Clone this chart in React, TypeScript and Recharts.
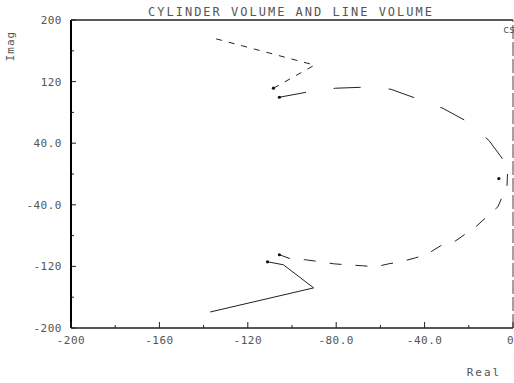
import { ScatterChart, Scatter, XAxis, YAxis, ReferenceLine } from 'recharts';

// upper branch of the locus (long dashes)
const upperReal = [-105.7, -93.4, -80.3, -68.0, -55.3, -44.0, -31.7, -20.9, -10.9, -3.2, -2.5];
const upperImag = [99.7, 106.2, 111.4, 112.7, 110.1, 98.4, 85.3, 68.4, 43.6, 13.7, 0];

// lower branch of the locus (short dashes)
const lowerReal = [-2.5, -2.7, -6.8, -11.3, -16.8, -21.3, -25.9, -32.7, -38.6, -44.0, -50.8, -56.2, -62.1, -68.0, -75.3, -81.2, -87.1, -93.9, -100.7, -105.7];
const lowerImag = [0, -15.0, -42.4, -54.1, -68.4, -77.5, -86.7, -93.2, -103.6, -108.8, -114.0, -116.6, -120.5, -119.2, -117.9, -116.6, -114.0, -111.4, -110.1, -104.9];

// line volume, upper (fine dashes)
const lineUpReal = [-108.4, -89.8, -135.6];
const lineUpImag = [111.4, 141.4, 176.5];

// line volume, lower (solid)
const lineLowReal = [-111.1, -103.9, -90.2, -137.0];
const lineLowImag = [-114.0, -117.9, -147.9, -179.2];

// marked points
const markReal = [-108.4, -105.7, -105.7, -111.1, -6.4];
const markImag = [111.4, 99.7, -104.9, -114.0, -5.9];

const xTicks = [-200, -180, -160, -140, -120, -100, -80, -60, -40, -20, 0];
const xMajor = [-200, -160, -120, -80, -40, 0];
const xLabels = ['-200', '-160', '-120', '-80.0', '-40.0', '0'];

const yTicks = [-200, -160, -120, -80, -40, 0, 40, 80, 120, 160, 200];
const yMajor = [200, 120, 40, -40, -120, -200];
const yLabels = ['200', '120', '40.0', '-40.0', '-120', '-200'];

const zip = (xs: number[], ys: number[]) => xs.map((x, i) => ({ x, y: ys[i] }));

const FONT = '"DejaVu Sans Mono", monospace';
const INK = '#222';
const TXT = '#555';

const XTick = ({ x, y, payload }: any) => {
  const i = xMajor.indexOf(payload.value);
  const major = i >= 0;
  const last = payload.value === 0;
  return (
    <g>
      <line x1={x} y1={y} x2={x} y2={y - (major ? 6 : 3)} stroke={INK} strokeWidth={1} />
      {major && (
        <text
          x={last ? x + 1 : x}
          y={y + 16}
          textAnchor={last ? 'end' : 'middle'}
          fontSize={11}
          fontFamily={FONT}
          fill={TXT}
          letterSpacing={0.5}
        >
          {xLabels[i]}
        </text>
      )}
    </g>
  );
};

const YTick = ({ x, y, payload }: any) => {
  const i = yMajor.indexOf(payload.value);
  const major = i >= 0;
  return (
    <g>
      <line x1={x} y1={y} x2={x + (major ? 5 : 3)} y2={y} stroke={INK} strokeWidth={1} />
      {major && (
        <text x={x - 9} y={y + 4} textAnchor="end" fontSize={11} fontFamily={FONT} fill={TXT} letterSpacing={0.5}>
          {yLabels[i]}
        </text>
      )}
    </g>
  );
};

const noDot = () => <g />;
const Dot = ({ cx, cy }: any) => <circle cx={cx} cy={cy} r={1.6} fill="#111" />;

export default function App() {
  return (
    <div style={{ position: 'absolute', left: 0, top: 0, width: 514, height: 383, background: '#fff' }}>
      <ScatterChart width={514} height={383} margin={{ top: 20, right: 1, bottom: 0, left: 0 }}>
        <XAxis
          type="number"
          dataKey="x"
          domain={[-200, 0]}
          ticks={xTicks}
          interval={0}
          height={55}
          tickSize={0}
          tickMargin={0}
          tickLine={false}
          tick={<XTick />}
          axisLine={{ stroke: INK, strokeWidth: 1.5 }}
          allowDataOverflow
        />
        <YAxis
          type="number"
          dataKey="y"
          domain={[-200, 200]}
          ticks={yTicks}
          interval={0}
          width={71}
          tickSize={0}
          tickMargin={0}
          tickLine={false}
          tick={<YTick />}
          axisLine={{ stroke: '#000', strokeWidth: 2 }}
          allowDataOverflow
        />
        <ReferenceLine y={200} stroke={INK} strokeWidth={1.5} />
        <ReferenceLine x={0} stroke="#444" strokeWidth={1} strokeDasharray="14 3" />
        <Scatter
          data={zip(upperReal, upperImag)}
          line={{ stroke: INK, strokeWidth: 1, strokeDasharray: '27 28' }}
          shape={noDot}
          isAnimationActive={false}
        />
        <Scatter
          data={zip(lowerReal, lowerImag)}
          line={{ stroke: INK, strokeWidth: 1, strokeDasharray: '12 14' }}
          shape={noDot}
          isAnimationActive={false}
        />
        <Scatter
          data={zip(lineUpReal, lineUpImag)}
          line={{ stroke: INK, strokeWidth: 1, strokeDasharray: '6 7' }}
          shape={noDot}
          isAnimationActive={false}
        />
        <Scatter
          data={zip(lineLowReal, lineLowImag)}
          line={{ stroke: INK, strokeWidth: 1 }}
          shape={noDot}
          isAnimationActive={false}
        />
        <Scatter data={zip(markReal, markImag)} shape={<Dot />} isAnimationActive={false} />
        <text x={291} y={16} textAnchor="middle" fontSize={12} fontFamily={FONT} fill={TXT} letterSpacing={2}>
          CYLINDER VOLUME AND LINE VOLUME
        </text>
        <text x={503} y={33} fontSize={10} fontFamily={FONT} fill={TXT}>
          cs
        </text>
        <text transform="translate(14,46) rotate(-90)" textAnchor="middle" fontSize={11} fontFamily={FONT} fill={TXT} letterSpacing={1}>
          Imag
        </text>
        <text x={484} y={376} textAnchor="middle" fontSize={11} fontFamily={FONT} fill={TXT} letterSpacing={2}>
          Real
        </text>
      </ScatterChart>
    </div>
  );
}
